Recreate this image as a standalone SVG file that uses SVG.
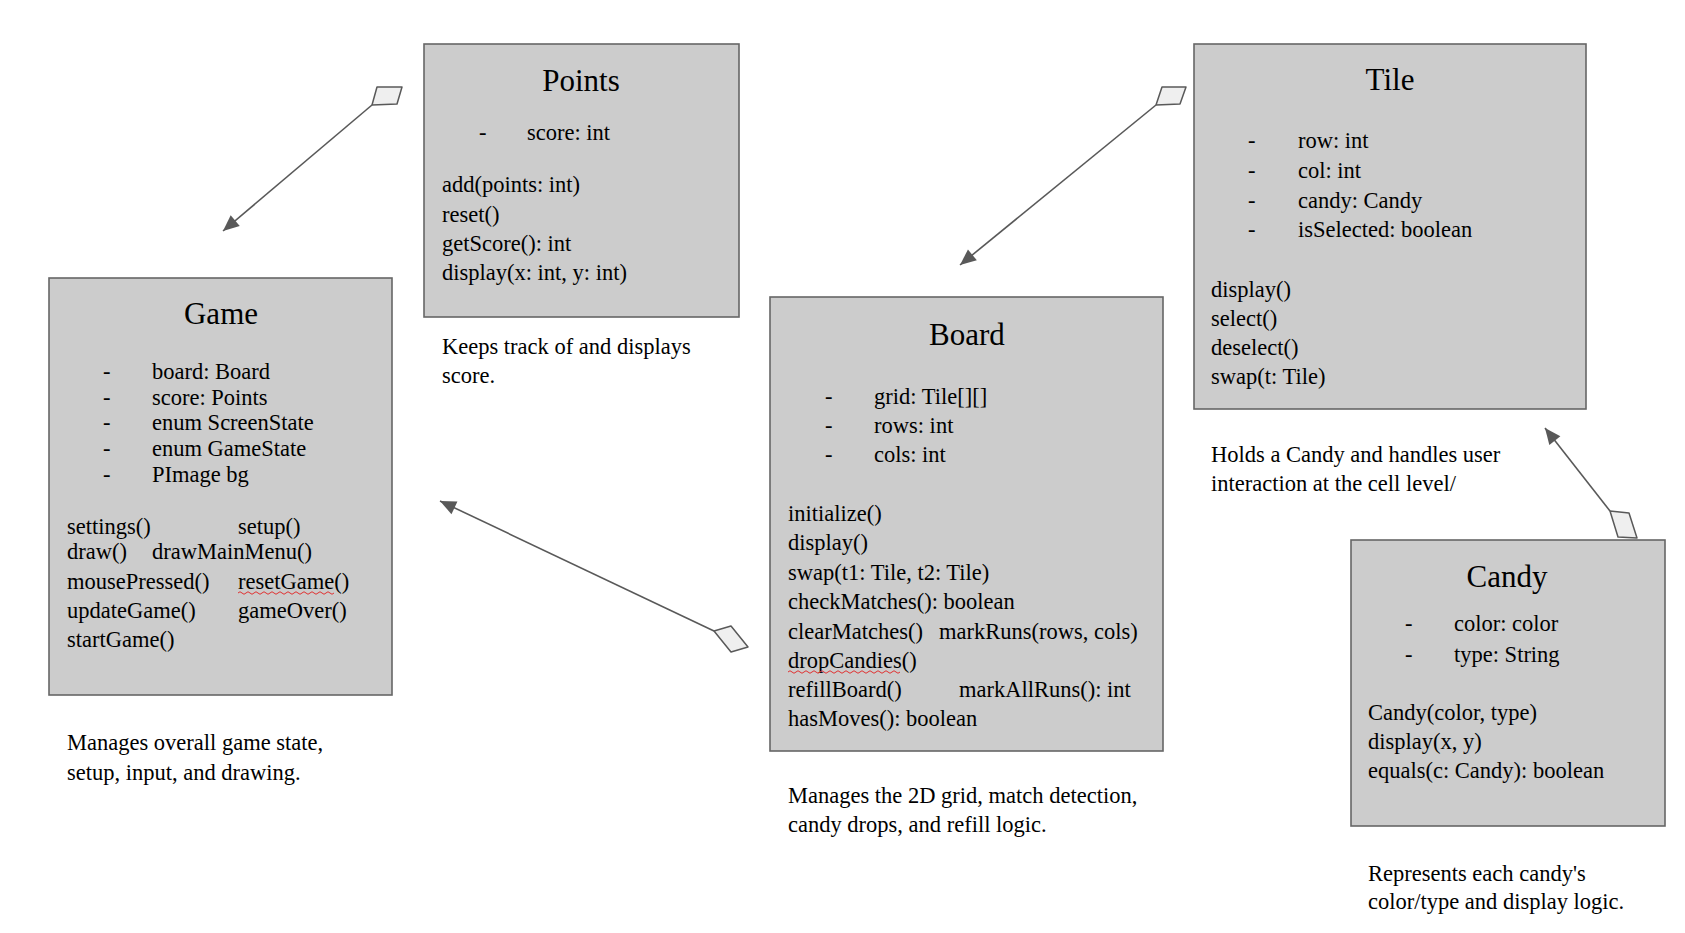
<svg xmlns="http://www.w3.org/2000/svg" width="1685" height="933" viewBox="0 0 1685 933">
<style>
.box{fill:#cccccc;stroke:#666666;stroke-width:1.6}
.t{font-family:"Liberation Serif",serif;font-size:22.5px;fill:#000}
.title{font-family:"Liberation Serif",serif;font-size:31px;fill:#000;text-anchor:middle}
.conn{stroke:#595959;stroke-width:1.6;fill:none}
.dia{fill:#efefef;stroke:#595959;stroke-width:1.5;stroke-linejoin:round}
.sq{stroke:#e03030;stroke-width:1;fill:none}
</style>
<defs>
<marker id="arr" markerUnits="userSpaceOnUse" markerWidth="20" markerHeight="20" viewBox="0 0 20 20" refX="18" refY="10" orient="auto">
<path d="M2,3 L18,10 L2,17 Z" fill="#595959"/>
</marker>
</defs>
<rect width="1685" height="933" fill="#ffffff"/>

<g id="game">
<rect class="box" x="49" y="278" width="343" height="417"/>
<text class="title" x="221" y="324">Game</text>
<text class="t" x="103" y="379">-</text><text class="t" x="152" y="379">board: Board</text>
<text class="t" x="103" y="405">-</text><text class="t" x="152" y="405">score: Points</text>
<text class="t" x="103" y="430">-</text><text class="t" x="152" y="430">enum ScreenState</text>
<text class="t" x="103" y="456">-</text><text class="t" x="152" y="456">enum GameState</text>
<text class="t" x="103" y="482">-</text><text class="t" x="152" y="482">PImage bg</text>
<text class="t" x="67" y="534">settings()</text><text class="t" x="238" y="534">setup()</text>
<text class="t" x="67" y="559">draw()</text><text class="t" x="152" y="559">drawMainMenu()</text>
<text class="t" x="67" y="589">mousePressed()</text><text class="t" x="238" y="589">resetGame()</text>
<path class="sq" d="M238,593 q2,-2.5 4,0 t4,0 t4,0 t4,0 t4,0 t4,0 t4,0 t4,0 t4,0 t4,0 t4,0 t4,0 t4,0 t4,0 t4,0 t4,0 t4,0 t4,0 t4,0 t4,0 t4,0 t4,0 t4,0 t4,0"/>
<text class="t" x="67" y="618">updateGame()</text><text class="t" x="238" y="618">gameOver()</text>
<text class="t" x="67" y="647">startGame()</text>
<text class="t" x="67" y="750">Manages overall game state,</text>
<text class="t" x="67" y="780">setup, input, and drawing.</text>
</g>

<g id="points">
<rect class="box" x="424" y="44" width="315" height="273"/>
<text class="title" x="581" y="91">Points</text>
<text class="t" x="479" y="140">-</text><text class="t" x="527" y="140">score: int</text>
<text class="t" x="442" y="192">add(points: int)</text>
<text class="t" x="442" y="222">reset()</text>
<text class="t" x="442" y="251">getScore(): int</text>
<text class="t" x="442" y="280">display(x: int, y: int)</text>
<text class="t" x="442" y="354">Keeps track of and displays</text>
<text class="t" x="442" y="383">score.</text>
</g>

<g id="board">
<rect class="box" x="770" y="297" width="393" height="454"/>
<text class="title" x="967" y="345">Board</text>
<text class="t" x="825" y="404">-</text><text class="t" x="874" y="404">grid: Tile[][]</text>
<text class="t" x="825" y="433">-</text><text class="t" x="874" y="433">rows: int</text>
<text class="t" x="825" y="462">-</text><text class="t" x="874" y="462">cols: int</text>
<text class="t" x="788" y="521">initialize()</text>
<text class="t" x="788" y="550">display()</text>
<text class="t" x="788" y="580">swap(t1: Tile, t2: Tile)</text>
<text class="t" x="788" y="609">checkMatches(): boolean</text>
<text class="t" x="788" y="639">clearMatches()</text><text class="t" x="939" y="639">markRuns(rows, cols)</text>
<text class="t" x="788" y="668">dropCandies()</text>
<path class="sq" d="M788,672 q2,-2.5 4,0 t4,0 t4,0 t4,0 t4,0 t4,0 t4,0 t4,0 t4,0 t4,0 t4,0 t4,0 t4,0 t4,0 t4,0 t4,0 t4,0 t4,0 t4,0 t4,0 t4,0 t4,0 t4,0 t4,0 t4,0 t4,0 t4,0 t4,0"/>
<text class="t" x="788" y="697">refillBoard()</text><text class="t" x="959" y="697">markAllRuns(): int</text>
<text class="t" x="788" y="726">hasMoves(): boolean</text>
<text class="t" x="788" y="803">Manages the 2D grid, match detection,</text>
<text class="t" x="788" y="832">candy drops, and refill logic.</text>
</g>

<g id="tile">
<rect class="box" x="1194" y="44" width="392" height="365"/>
<text class="title" x="1390" y="90">Tile</text>
<text class="t" x="1248" y="148">-</text><text class="t" x="1298" y="148">row: int</text>
<text class="t" x="1248" y="178">-</text><text class="t" x="1298" y="178">col: int</text>
<text class="t" x="1248" y="208">-</text><text class="t" x="1298" y="208">candy: Candy</text>
<text class="t" x="1248" y="237">-</text><text class="t" x="1298" y="237">isSelected: boolean</text>
<text class="t" x="1211" y="297">display()</text>
<text class="t" x="1211" y="326">select()</text>
<text class="t" x="1211" y="355">deselect()</text>
<text class="t" x="1211" y="384">swap(t: Tile)</text>
<text class="t" x="1211" y="462">Holds a Candy and handles user</text>
<text class="t" x="1211" y="491">interaction at the cell level/</text>
</g>

<g id="candy">
<rect class="box" x="1351" y="540" width="314" height="286"/>
<text class="title" x="1507" y="587">Candy</text>
<text class="t" x="1405" y="631">-</text><text class="t" x="1454" y="631">color: color</text>
<text class="t" x="1405" y="662">-</text><text class="t" x="1454" y="662">type: String</text>
<text class="t" x="1368" y="720">Candy(color, type)</text>
<text class="t" x="1368" y="749">display(x, y)</text>
<text class="t" x="1368" y="778">equals(c: Candy): boolean</text>
<text class="t" x="1368" y="881">Represents each candy's</text>
<text class="t" x="1368" y="909">color/type and display logic.</text>
</g>

<g id="connectors">
<line class="conn" x1="372" y1="105" x2="223" y2="231" marker-end="url(#arr)"/>
<polygon class="dia" points="372,105 377,87 402,87 397,104"/>
<line class="conn" x1="1156" y1="105" x2="960" y2="265" marker-end="url(#arr)"/>
<polygon class="dia" points="1156,105 1162,87 1186,87 1180,104"/>
<line class="conn" x1="714" y1="631" x2="440" y2="501" marker-end="url(#arr)"/>
<polygon class="dia" points="714,631 731,626 748,647 731,652"/>
<line class="conn" x1="1610" y1="511" x2="1545" y2="428" marker-end="url(#arr)"/>
<polygon class="dia" points="1610,511 1629,513 1637,538 1618,537"/>
</g>
</svg>
